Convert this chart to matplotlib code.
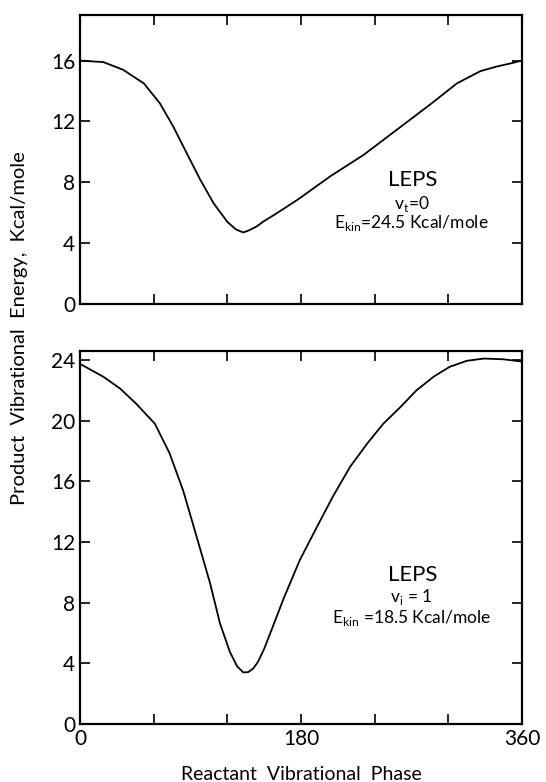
import matplotlib.pyplot as plt

plt.rcParams['font.family'] = ['Lato', 'DejaVu Sans']
plt.rcParams['mathtext.fontset'] = 'custom'
plt.rcParams['mathtext.rm'] = 'Lato'

# v_t = 0, E_kin = 24.5 Kcal/mole
phase_top = [0, 19, 35, 52, 65, 76, 87, 98, 109, 120, 127, 133, 138, 144, 149,
             160, 177, 204, 231, 258, 285, 307, 326, 339, 350, 360]
energy_top = [16.0, 15.9, 15.4, 14.5, 13.2, 11.66, 9.9, 8.16, 6.6, 5.4, 4.9, 4.7, 4.85, 5.1, 5.4,
              5.95, 6.84, 8.4, 9.8, 11.45, 13.1, 14.5, 15.3, 15.6, 15.8, 16.0]

# v_i = 1, E_kin = 18.5 Kcal/mole
phase_bot = [0, 19, 33, 46, 61, 73, 84, 95, 106, 114, 122, 128, 133, 137, 141, 145, 150, 156,
             166, 179, 193, 206, 220, 234, 247, 261, 274, 288, 301, 315, 329, 345, 360]
energy_bot = [23.75, 22.9, 22.1, 21.1, 19.8, 17.85, 15.4, 12.35, 9.27, 6.64, 4.77, 3.8, 3.4, 3.42, 3.65, 4.1, 4.95, 6.2,
              8.3, 10.8, 13.0, 15.0, 16.96, 18.5, 19.8, 20.9, 22.0, 22.9, 23.55, 23.95, 24.1, 24.05, 23.9]

x_ticks = [0, 60, 120, 180, 240, 300, 360]
x_labels = ['0', '', '', '180', '', '', '360']

fig = plt.figure(figsize=(5.46, 7.82), dpi=100)
ax1 = fig.add_axes([0.1465, 0.6113, 0.8095, 0.3696])
ax2 = fig.add_axes([0.1465, 0.0742, 0.8095, 0.4770])

ax1.plot(phase_top, energy_top, color='black', lw=1.3)
ax2.plot(phase_bot, energy_bot, color='black', lw=1.3)

for ax in (ax1, ax2):
    ax.set_xlim(0, 360)
    ax.set_xticks(x_ticks)
    ax.tick_params(direction='in', top=True, right=True, length=7, width=1.2, labelsize=15)
    for s in ax.spines.values():
        s.set_linewidth(1.6)

ax1.set_ylim(0, 19)
ax1.set_yticks([0, 4, 8, 12, 16])
ax1.set_xticklabels([])

ax2.set_ylim(0, 24.6)
ax2.set_yticks([0, 4, 8, 12, 16, 20, 24])
ax2.set_xticklabels(x_labels)
ax2.set_xlabel('Reactant  Vibrational  Phase', fontsize=14, labelpad=12)

ax1.text(271, 8.15, 'LEPS', ha='center', va='center', fontsize=16)
ax1.text(270, 6.6, r'v$_\mathregular{t}$=0', ha='center', va='center', fontsize=12.5)
ax1.text(270, 5.3, r'E$_\mathregular{kin}$=24.5 Kcal/mole', ha='center', va='center', fontsize=12.5)

ax2.text(271, 9.8, 'LEPS', ha='center', va='center', fontsize=16)
ax2.text(270, 8.4, r'v$_\mathregular{i}$ = 1', ha='center', va='center', fontsize=12.5)
ax2.text(270, 6.97, r'E$_\mathregular{kin}$ =18.5 Kcal/mole', ha='center', va='center', fontsize=12.5)

fig.text(0.036, 0.58, 'Product  Vibrational  Energy,  Kcal/mole', rotation=90,
         ha='center', va='center', fontsize=14.5)

fig.savefig('out.png', dpi=100)
